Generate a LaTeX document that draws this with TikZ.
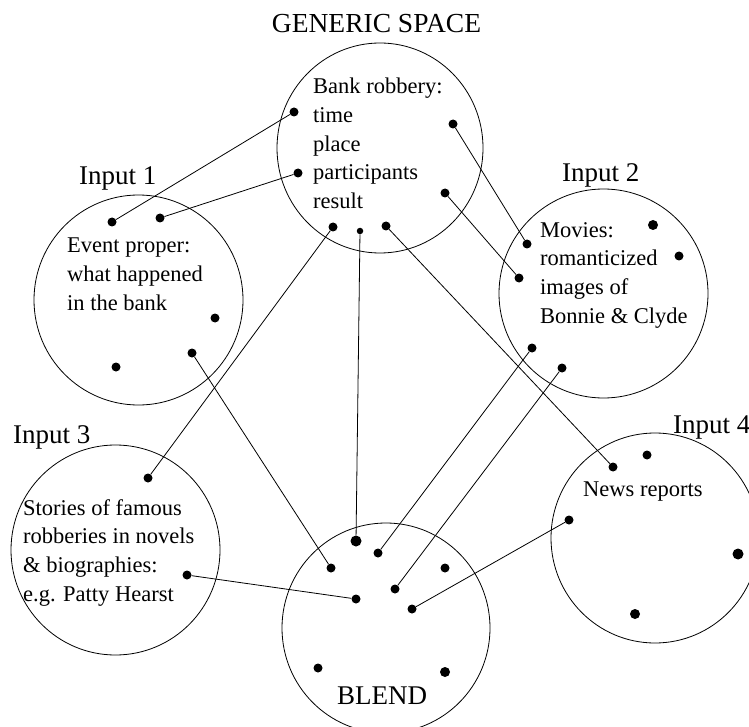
\documentclass[tikz,border=0pt]{standalone}
\usepackage{fontspec}
\setmainfont{Liberation Serif}
\usetikzlibrary{shapes.geometric}

\begin{document}
\begin{tikzpicture}[
x=1pt,y=-1pt,
space/.style={
  draw,
  ellipse,
  line width=0.8pt,
  inner sep=0pt,
  minimum width=209pt,
  minimum height=210pt
  },
dot/.style={
  circle,
  fill,
  inner sep=0pt,
  minimum size=9pt
  },
txt/.style={
  font=\fontsize{22.5}{28.7}\selectfont,
  align=left,
  inner sep=0pt,
  anchor=north west
  },
lbl/.style={
  font=\fontsize{27}{32}\selectfont,
  inner sep=0pt,
  anchor=base west
  },
link/.style={
  line width=0.8pt
  }
]
\useasboundingbox (0,0) rectangle (749,727);

% the six spaces
\node[space, minimum width=206pt] (gen) at (380,148) {};
\node[space] (inone) at (138.5,300) {};
\node[space, minimum height=209pt] (intwo) at (603.5,293.5) {};
\node[space] (inthree) at (115.5,550) {};
\node[space, minimum width=208pt] (infour) at (655,538) {};
\node[space, minimum width=208pt] (blend) at (386,628) {};

% elements
\foreach \n/\x/\y/\s in {g1/294/112/9, g2/298/173/9, g3/453/124/9, g4/445/193/9,
  g5/333/227/9, g6/360/231/6.5, g7/386/226/9,
  a1/112/222/9, a2/160/218/9, a3/215/318/9, a4/192/353/9, a5/116/367/9,
  b1/527/244/9, b2/653/225/10, b3/679/256/9, b4/519/278/9, b5/532/348/9, b6/562/368/9,
  c1/148/478/9, c2/187/575/9,
  d1/613/467/9, d2/647/455/9, d3/569/520/9, d4/738/554/11, d5/635/614/10,
  x1/356/541/11, x2/378/553/9, x3/331/568/9, x4/445/568/9, x5/395/589/9,
  x6/356/599/9, x7/412/609/9, x8/318/668/9, x9/445/672/10}
  \node[dot, minimum size=\s pt] (\n) at (\x,\y) {};

% mappings
\foreach \a/\b in {g1/a1, g2/a2, g3/b1, g4/b4, g5/c1, g6/x1, g7/d1,
  a4/x3, b5/x2, b6/x5, c2/x6, d3/x7}
  \draw[link] (\a) -- (\b);

% texts
\node[lbl, anchor=base, font=\fontsize{27.5}{32}\selectfont] (genlbl) at (376.5,33) {GENERIC SPACE};
\node[lbl] (onelbl) at (79,185) {Input 1};
\node[lbl] (twolbl) at (562,182) {Input 2};
\node[lbl] (threelbl) at (13,443) {Input 3};
\node[lbl] (fourlbl) at (673,433) {Input 4};
\node[lbl, anchor=base] (blendlbl) at (382,704) {BLEND};

\node[txt] (gentxt) at (313,78) {Bank robbery:\\time\\place\\participants\\result};
\node[txt] (onetxt) at (67,238) {Event proper:\\what happened\\in the bank};
\node[txt] (twotxt) at (540,222) {Movies:\\romanticized\\images of\\Bonnie \& Clyde};
\node[txt] (threetxt) at (23,499) {Stories of famous\\robberies in novels\\\& biographies:\\e.g. Patty Hearst};
\node[txt] (fourtxt) at (583,482) {News reports};

\end{tikzpicture}
\end{document}
